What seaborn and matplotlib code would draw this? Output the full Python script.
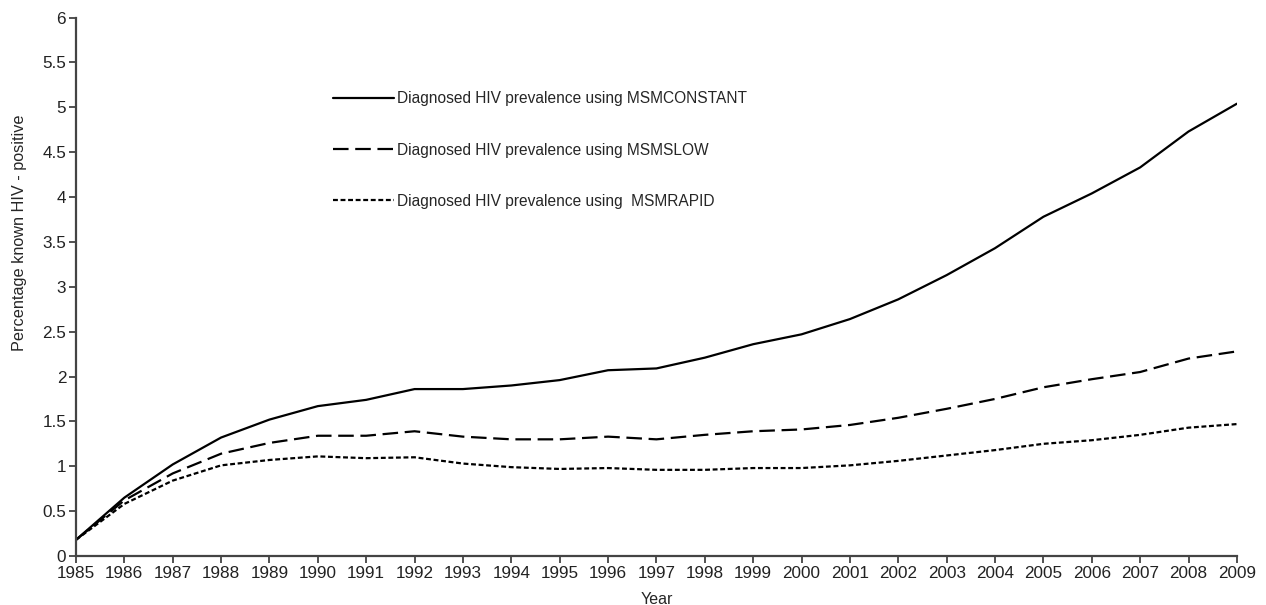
import numpy as np
import pandas as pd
import matplotlib
matplotlib.use("Agg")
import matplotlib.pyplot as plt
import seaborn as sns

# values
years = list(range(1985, 2010))
msm_constant = [0.18, 0.65, 1.02, 1.32, 1.52, 1.67, 1.74, 1.86, 1.86, 1.90, 1.96, 2.07, 2.09,
                2.21, 2.36, 2.47, 2.64, 2.86, 3.13, 3.43, 3.78, 4.04, 4.33, 4.73, 5.04]
msm_slow = [0.18, 0.62, 0.92, 1.14, 1.26, 1.34, 1.34, 1.39, 1.33, 1.30, 1.30, 1.33, 1.30,
            1.35, 1.39, 1.41, 1.46, 1.54, 1.64, 1.75, 1.88, 1.97, 2.05, 2.20, 2.28]
msm_rapid = [0.18, 0.58, 0.84, 1.01, 1.07, 1.11, 1.09, 1.10, 1.03, 0.99, 0.97, 0.98, 0.96,
             0.96, 0.98, 0.98, 1.01, 1.06, 1.12, 1.18, 1.25, 1.29, 1.35, 1.43, 1.47]
labels = ["Diagnosed HIV prevalence using MSMCONSTANT",
          "Diagnosed HIV prevalence using MSMSLOW",
          "Diagnosed HIV prevalence using  MSMRAPID"]

df = pd.concat([
    pd.DataFrame({"Year": years, "value": vals, "series": lab})
    for vals, lab in zip([msm_constant, msm_slow, msm_rapid], labels)
])

sns.set_style("ticks")
plt.rcParams["font.family"] = ["Liberation Sans", "DejaVu Sans"]

fig = plt.figure(figsize=(12.66, 6.05), dpi=100)
ax = fig.add_axes([0.060, 0.081, 0.917, 0.890])

dashes = {labels[0]: "", labels[1]: (7, 3), labels[2]: (2.2, 1.2)}
sns.lineplot(data=df, x="Year", y="value", hue="series", style="series",
             palette=["black"] * 3, dashes=dashes, linewidth=1.6, ax=ax)

ax.set_xlim(1985, 2009)
ax.set_ylim(0, 6)
ax.set_xticks(years)
ax.set_xticklabels([str(y) for y in years])
ax.set_yticks(np.arange(0, 6.01, 0.5))
ax.set_yticklabels(["0", "0.5", "1", "1.5", "2", "2.5", "3", "3.5", "4", "4.5", "5", "5.5", "6"])
ax.tick_params(axis="both", labelsize=12.3, length=5, width=1.2, color="#333333",
               labelcolor="#222222", pad=2)
for side in ["left", "bottom"]:
    ax.spines[side].set_linewidth(1.6)
    ax.spines[side].set_color("#444444")
sns.despine(ax=ax)

ax.set_xlabel("Year", fontsize=11.5, labelpad=8)
ax.set_ylabel("Percentage known HIV - positive", fontsize=11.7, labelpad=10)
ax.yaxis.set_label_coords(-0.042, 0.60)

leg = ax.legend(loc="upper left", bbox_to_anchor=(0.252, 0.872), bbox_transform=fig.transFigure,
                frameon=False, fontsize=11.2, handlelength=3.9, handletextpad=0.2,
                labelspacing=2.33)
for line in leg.get_lines():
    line.set_linewidth(1.6)

fig.savefig("out.png", dpi=100)
